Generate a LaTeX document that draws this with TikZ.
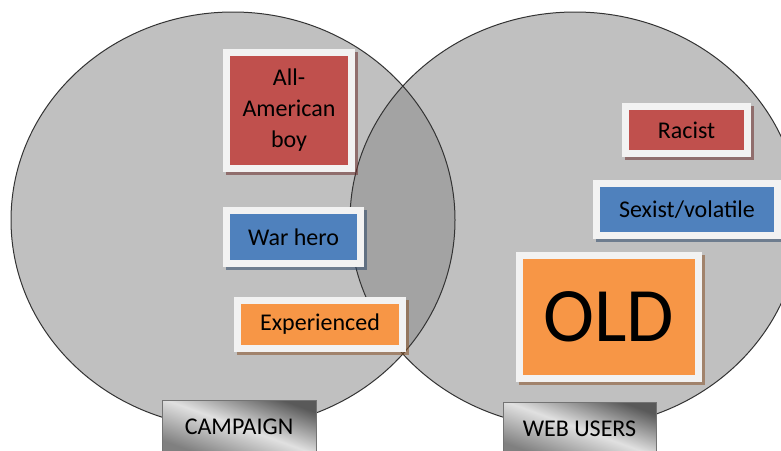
\documentclass[tikz,border=0pt]{standalone}
\usepackage{fontspec}
\setmainfont{Carlito}
\usepackage{tikz}
\usetikzlibrary{positioning, shadows, calc}
\definecolor{vennfill}{HTML}{C0C0C0}
\definecolor{overlapfill}{HTML}{A3A3A3}
\definecolor{vennline}{HTML}{333333}
\definecolor{boxred}{HTML}{C0504D}
\definecolor{boxblue}{HTML}{4F81BD}
\definecolor{boxorange}{HTML}{F79646}
\definecolor{boxrim}{HTML}{F2F2F2}

\begin{document}
\begin{tikzpicture}[x=1pt, y=-1pt,
    venn/.style={draw=vennline, line width=1pt},
    tag/.style={draw=boxrim, line width=7pt, inner sep=0pt, align=center, font=\fontsize{24}{31}\selectfont},
    redtag/.style={tag, fill=boxred, drop shadow={shadow xshift=3pt, shadow yshift=-3pt, draw=boxred!55!black, fill=boxred!55!black, line width=7pt, opacity=0.55}},
    bluetag/.style={tag, fill=boxblue, drop shadow={shadow xshift=3pt, shadow yshift=-3pt, draw=boxblue!55!black, fill=boxblue!55!black, line width=7pt, opacity=0.55}},
    orangetag/.style={tag, fill=boxorange, drop shadow={shadow xshift=3pt, shadow yshift=-3pt, draw=boxorange!55!black, fill=boxorange!55!black, line width=7pt, opacity=0.55}},
    metal/.style={draw=black!55, line width=0.8pt, left color=black!65, right color=black!50, middle color=black!12, shading angle=-20, font=\fontsize{24}{28}\selectfont, inner sep=0pt, anchor=north}
]
\clip (0,0) rectangle (781,450);
\fill[white] (0,0) rectangle (781,450);

% Circles
\coordinate (leftc) at (233,220);
\coordinate (rightc) at (575,220);
\fill[vennfill] (leftc) ellipse [x radius=222, y radius=208];
\fill[vennfill] (rightc) ellipse [x radius=225, y radius=208];
\begin{scope}
  \clip (leftc) ellipse [x radius=222, y radius=208];
  \fill[overlapfill] (rightc) ellipse [x radius=225, y radius=208];
\end{scope}
\draw[venn] (leftc) ellipse [x radius=222, y radius=208];
\draw[venn] (rightc) ellipse [x radius=225, y radius=208];

% Campaign side
\node[redtag, minimum width=125, minimum height=116] (allamerican) at (289,110.5) {All-\\American\\boy};
\node[bluetag, minimum width=134, minimum height=53] (warhero) at (293.5,237) {War hero};
\node[orangetag, minimum width=165, minimum height=48] (experienced) at (320,324.5) {Experienced};

% Web users side
\node[redtag, minimum width=122, minimum height=47] (racist) at (686.5,130) {Racist};
\node[bluetag, minimum width=181, minimum height=52] (sexist) at (687,209.5) {Sexist/volatile};
\node[orangetag, minimum width=179, minimum height=123, font=\fontsize{77}{80}\selectfont] (old) at (609,317) {OLD};

% Labels
\node[metal, minimum width=154, minimum height=52] (campaign) at (239,400) {CAMPAIGN};
\node[metal, minimum width=153, minimum height=52] (webusers) at (579.5,402) {WEB USERS};

\end{tikzpicture}
\end{document}
